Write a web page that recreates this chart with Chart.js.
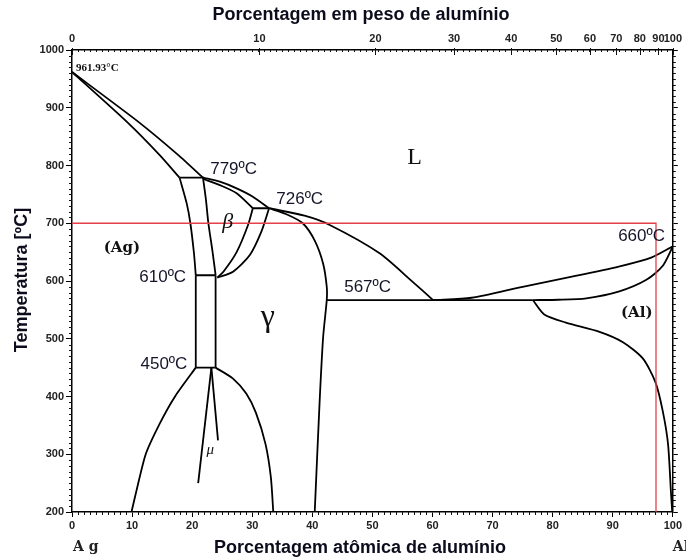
<!DOCTYPE html>
<html>
<head>
<meta charset="utf-8">
<script src="https://cdn.jsdelivr.net/npm/chart.js@4.4.1/dist/chart.umd.min.js"></script>
<style>
  html, body { margin: 0; padding: 0; background: #fff; }
  #wrap { width: 686px; height: 559px; position: relative; }
</style>
</head>
<body>
<div id="wrap"><canvas id="c"></canvas></div>
<script>
// Ag–Al binary phase diagram: temperature (ºC) against atomic % Al,
// with the equivalent weight % Al shown along the top edge.

// ---- axis ticks ----
const atomicTicks = [0, 10, 20, 30, 40, 50, 60, 70, 80, 90, 100];
const tempTicks = [200, 300, 400, 500, 600, 700, 800, 900, 1000];
const weightTickLabels = [0, 10, 20, 30, 40, 50, 60, 70, 80, 90, 100];
const weightTickAtomic = [0, 31.2, 50.5, 63.6, 73.1, 80.6, 86.2, 90.6, 94.5, 97.6, 100];

// ---- invariant temperatures (ºC) ----
const tMeltAg = 961.93;
const tMeltAl = 660;
const tPeritecticHigh = 779;
const tPeritecticLow = 726;
const tEutectoid = 610;
const tMuReaction = 450;
const tEutectic = 567;

// ---- phase boundaries: [atomic % Al, ºC] ----
const liquidusAg = [[0, tMeltAg], [11.0, 876], [17.7, 818], [21.8, tPeritecticHigh]];
const solidusAg = [[0, tMeltAg], [9.1, 876], [14.6, 818], [17.9, tPeritecticHigh]];
const solvusAgHigh = [[17.9, tPeritecticHigh], [19.1, 734], [19.7, 700], [20.3, 648], [20.6, tEutectoid]];
const solvusAgLow = [[20.6, tEutectoid], [20.6, tMuReaction]];
const zetaEdgeHigh = [[21.8, tPeritecticHigh], [22.3, 740], [22.7, 700], [23.4, 650], [23.9, tEutectoid]];
const zetaEdgeLow = [[23.9, tEutectoid], [23.9, tMuReaction]];
const betaTop = [[21.8, 777], [24.6, 766], [27.4, 752], [30.1, tPeritecticLow]];
const liquidusMid = [[21.8, tPeritecticHigh], [24.6, 772], [27.4, 760.5], [30.1, 746], [32.8, tPeritecticLow]];
const liquidusRight = [[32.8, tPeritecticLow], [38.7, 713], [42.9, 697], [51.2, 648], [56.7, 598.5], [60.1, tEutectic]];
const betaLeft = [[30.1, tPeritecticLow], [29.3, 697], [27.4, 650], [25.2, 616], [24.2, 606]];
const betaRight = [[32.8, tPeritecticLow], [31.5, 685], [29.6, 645], [26.8, 616], [24.2, 606]];
const gammaEdge = [[32.8, tPeritecticLow], [35.6, 716], [38.4, 700], [40.4, 670], [41.8, 630], [42.4, 590], [42.4, tEutectic], [41.8, 503], [41.2, 388], [40.4, 200]];
const liquidusAl = [[60.1, tEutectic], [66.5, 571], [75.0, 590], [83.0, 607], [91.0, 625], [96.5, 641], [100, tMeltAl]];
const solidusAl = [[76.7, tEutectic], [81.0, 567.5], [85.6, 570], [91.1, 582], [95.6, 602], [98.3, 626], [100, tMeltAl]];
const solvusAl = [[76.7, tEutectic], [78.6, 542], [82.2, 528], [87.8, 512], [91.7, 494], [95.0, 466], [97.1, 425], [98.3, 376], [99.2, 318], [99.7, 232], [99.9, 200]];
const muLeftDome = [[20.6, tMuReaction], [17.2, 401], [14.6, 353], [12.2, 298], [9.9, 200]];
const muRightDome = [[23.9, tMuReaction], [26.8, 431], [29.0, 405], [30.6, 372], [32.2, 318], [33.1, 260], [33.5, 200]];
const muLineLeft = [[23.2, tMuReaction], [21.0, 250]];
const muLineRight = [[23.2, tMuReaction], [24.3, 324]];
const isoHigh = [[17.9, tPeritecticHigh], [22.0, tPeritecticHigh]];
const isoLow = [[30.1, tPeritecticLow], [32.8, tPeritecticLow]];
const isoEutectoid = [[20.6, tEutectoid], [23.9, tEutectoid]];
const isoMu = [[20.6, tMuReaction], [23.9, tMuReaction]];
const isoEutectic = [[42.4, tEutectic], [76.7, tEutectic]];

// ---- highlighted composition / temperature guide ----
const guideLine = [[0, 700], [97.2, 700], [97.2, 200]];

const toXY = pts => pts.map(([x, y]) => ({ x, y }));
const line = (pts, tension) => ({
  data: toXY(pts), showLine: true, fill: false, pointRadius: 0,
  borderColor: '#000', borderWidth: 1.8, tension: tension
});

const datasets = [
  { data: toXY(guideLine), showLine: true, fill: false, pointRadius: 0,
    borderColor: '#e5404a', borderWidth: 1.3, tension: 0 },
  line(liquidusAg, 0.2), line(solidusAg, 0.2),
  line(solvusAgHigh, 0.25), line(solvusAgLow, 0),
  line(zetaEdgeHigh, 0.25), line(zetaEdgeLow, 0),
  line(betaTop, 0.25), line(liquidusMid, 0.25), line(liquidusRight, 0.25),
  line(betaLeft, 0.25), line(betaRight, 0.25), line(gammaEdge, 0.25),
  line(liquidusAl, 0.25), line(solidusAl, 0.25), line(solvusAl, 0.25),
  line(muLeftDome, 0.2), line(muRightDome, 0.25),
  line(muLineLeft, 0), line(muLineRight, 0),
  line(isoHigh, 0), line(isoLow, 0), line(isoEutectoid, 0), line(isoMu, 0), line(isoEutectic, 0)
];

// text placed on the diagram, anchored in data coordinates
const sans = '"Liberation Sans", Arial, sans-serif';
const serif = '"DejaVu Serif", "Liberation Serif", serif';
const tempText = t => t + 'ºC';
const notes = [
  { text: tempText(tPeritecticHigh), x: 26.9, y: 794, font: '17px ' + sans, color: '#15152a' },
  { text: tempText(tPeritecticLow), x: 37.9, y: 742, font: '17px ' + sans, color: '#15152a' },
  { text: tempText(tEutectoid), x: 15.1, y: 607, font: '17px ' + sans, color: '#15152a' },
  { text: tempText(tMuReaction), x: 15.3, y: 456, font: '17px ' + sans, color: '#15152a' },
  { text: tempText(tEutectic), x: 49.2, y: 589, font: '17px ' + sans, color: '#15152a' },
  { text: tempText(tMeltAl), x: 94.8, y: 678, font: '17px ' + sans, color: '#15152a' },
  { text: 'L', x: 57.0, y: 813, font: '24px "Liberation Serif", serif', color: '#111' },
  { text: 'β', x: 25.9, y: 702, font: 'italic 22px "Liberation Serif", serif', color: '#111' },
  { text: 'γ', x: 32.6, y: 537, font: '32px "Liberation Serif", serif', color: '#111' },
  { text: '(Ag)', x: 8.3, y: 657, font: 'bold 15px ' + serif, color: '#111' },
  { text: '(Al)', x: 94.0, y: 544, font: 'bold 15px ' + serif, color: '#111' },
  { text: 'μ', x: 23.0, y: 307, font: 'italic 15px "Liberation Serif", serif', color: '#111' }
];

const decor = {
  id: 'decor',
  afterDraw(chart) {
    const { ctx, chartArea: ca, scales } = chart;
    const sx = scales.x, sy = scales.y;
    ctx.save();
    ctx.strokeStyle = '#111';
    ctx.lineWidth = 1;
    ctx.beginPath();
    // minor temperature ticks, left and right edges
    for (let t = 210; t < 1000; t += 10) {
      if (t % 100 === 0) continue;
      const p = Math.round(sy.getPixelForValue(t)) + 0.5;
      ctx.moveTo(ca.left - 3, p); ctx.lineTo(ca.left, p);
      ctx.moveTo(ca.right, p); ctx.lineTo(ca.right + 3, p);
    }
    // minor composition ticks, bottom and top edges
    for (let a = 1; a < 100; a++) {
      const p = Math.round(sx.getPixelForValue(a)) + 0.5;
      if (a % 10 !== 0) { ctx.moveTo(p, ca.bottom); ctx.lineTo(p, ca.bottom + 3); }
      ctx.moveTo(p, ca.top); ctx.lineTo(p, ca.top + 2);
    }
    // weight-percent ticks along the top edge
    weightTickAtomic.forEach(a => {
      const p = Math.round(sx.getPixelForValue(a)) + 0.5;
      ctx.moveTo(p, ca.top - 2); ctx.lineTo(p, ca.top + 5);
    });
    ctx.stroke();

    // notes inside the plot
    ctx.textAlign = 'center';
    ctx.textBaseline = 'middle';
    notes.forEach(n => {
      ctx.font = n.font;
      ctx.fillStyle = n.color;
      ctx.fillText(n.text, sx.getPixelForValue(n.x), sy.getPixelForValue(n.y));
    });
    ctx.font = 'bold 11px "Liberation Serif", serif';
    ctx.textAlign = 'left';
    ctx.fillStyle = '#111';
    ctx.fillText(tMeltAg + '°C', sx.getPixelForValue(0) + 4, sy.getPixelForValue(969));

    // element symbols under the composition axis ends
    ctx.font = 'bold 14px ' + serif;
    ctx.fillStyle = '#222';
    ctx.fillText('A g', sx.getPixelForValue(0) + 1, ca.bottom + 35);
    ctx.fillText('Al', sx.getPixelForValue(100) + 0, ca.bottom + 35);

    // axis titles
    ctx.fillStyle = '#0c0c1c';
    ctx.font = 'bold 18px ' + sans;
    ctx.textAlign = 'center';
    ctx.fillText('Porcentagem em peso de alumínio', 361, 15);
    ctx.fillText('Porcentagem atômica de alumínio', 360, 548);
    ctx.translate(22, 280);
    ctx.rotate(-Math.PI / 2);
    ctx.fillText('Temperatura [ºC]', 0, 0);
    ctx.restore();
  }
};

const tickFont = { family: 'Liberation Sans', size: 11, weight: 'bold' };

new Chart(document.getElementById('c'), {
  type: 'scatter',
  data: { datasets },
  options: {
    responsive: true,
    maintainAspectRatio: false,
    animation: false,
    layout: { padding: 0 },
    plugins: { legend: { display: false }, tooltip: { enabled: false } },
    scales: {
      x: {
        type: 'linear', position: 'bottom', min: 0, max: 100,
        afterBuildTicks: s => { s.ticks = atomicTicks.map(v => ({ value: v })); },
        ticks: { font: tickFont, color: '#222', padding: 2, maxRotation: 0, autoSkip: false,
                 callback: v => String(v) },
        grid: { drawOnChartArea: false, drawTicks: true, tickLength: 5, color: '#000', lineWidth: 1 },
        border: { display: true, color: '#000', width: 1.5 },
        afterFit: s => { s.height = 47; }
      },
      xTop: {
        type: 'linear', position: 'top', min: 0, max: 100,
        afterBuildTicks: s => { s.ticks = weightTickAtomic.map(v => ({ value: v })); },
        ticks: { font: tickFont, color: '#222', padding: 4, maxRotation: 0, autoSkip: false,
                 callback: (v, i) => String(weightTickLabels[i]) },
        grid: { drawOnChartArea: false, drawTicks: false },
        border: { display: true, color: '#000', width: 1.5 },
        afterFit: s => { s.height = 50; }
      },
      y: {
        type: 'linear', position: 'left', min: 200, max: 1000,
        afterBuildTicks: s => { s.ticks = tempTicks.map(v => ({ value: v })); },
        ticks: { font: tickFont, color: '#222', padding: 2, callback: v => String(v) },
        grid: { drawOnChartArea: false, drawTicks: true, tickLength: 6, color: '#000', lineWidth: 1 },
        border: { display: true, color: '#000', width: 1.5 },
        afterFit: s => { s.width = 72; }
      },
      yRight: {
        type: 'linear', position: 'right', min: 200, max: 1000,
        afterBuildTicks: s => { s.ticks = tempTicks.map(v => ({ value: v })); },
        ticks: { display: false },
        grid: { drawOnChartArea: false, drawTicks: true, tickLength: 5, color: '#000', lineWidth: 1 },
        border: { display: true, color: '#000', width: 1.5 },
        afterFit: s => { s.width = 13; }
      }
    }
  },
  plugins: [decor]
});
</script>
</body>
</html>
